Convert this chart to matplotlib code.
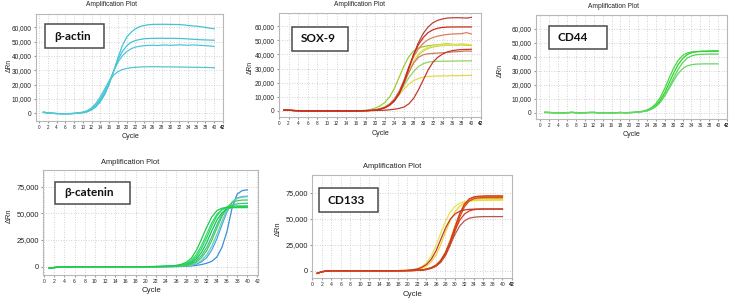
import matplotlib
matplotlib.use("Agg")
import matplotlib.pyplot as plt
from matplotlib.patches import Rectangle
from matplotlib.ticker import FuncFormatter
import numpy as np

W, H = 733, 300
CYCLES = np.arange(1, 41)

# delta Rn in thousands, one value per cycle 1..40
ACTIN = [
    [0.8, 0.3, 0.0, -0.2, -0.3, -0.3, -0.3, -0.2, 0.0, 0.4,
     1.0, 2.3, 4.5, 8.0, 13.0, 20.0, 29.0, 38.5, 47.0, 53.0,
     56.5, 59.0, 60.5, 61.3, 61.8, 62.0, 62.1, 62.1, 62.1, 62.0,
     62.0, 61.9, 61.7, 61.3, 61.0, 60.8, 60.4, 59.9, 59.4, 59.0],
    [0.6, 0.2, 0.0, -0.2, -0.3, -0.3, -0.3, -0.2, 0.1, 0.5,
     1.2, 2.8, 5.2, 9.0, 14.0, 21.0, 29.0, 37.0, 43.0, 47.0,
     49.5, 50.8, 51.5, 52.0, 52.2, 52.3, 52.3, 52.4, 52.3, 52.3,
     52.3, 52.2, 52.1, 51.9, 51.7, 51.5, 51.3, 51.2, 51.1, 51.0],
    [0.7, 0.2, 0.0, -0.2, -0.3, -0.3, -0.3, -0.1, 0.2, 0.6,
     1.5, 3.2, 6.0, 10.0, 15.5, 22.0, 29.0, 35.5, 40.0, 43.0,
     45.0, 46.2, 46.8, 47.2, 47.4, 47.5, 47.3, 47.6, 47.7, 47.4,
     47.6, 47.8, 47.6, 47.5, 47.7, 47.6, 47.4, 47.2, 47.0, 46.6],
    [0.8, 0.3, 0.0, -0.2, -0.3, -0.3, -0.2, 0.0, 0.3, 0.8,
     1.8, 3.8, 7.0, 11.5, 17.0, 22.5, 26.5, 29.0, 30.5, 31.3,
     31.8, 32.1, 32.3, 32.4, 32.5, 32.5, 32.5, 32.4, 32.4, 32.4,
     32.3, 32.3, 32.2, 32.2, 32.1, 32.1, 32.0, 32.0, 31.9, 31.8],
]
ACTIN_COLORS = ["#3fc6d6", "#45c3d4", "#4cc8d6", "#52c6d2"]

SOX9 = [
    [0.6, 0.5, 0.3, 0.1, 0.0, 0.0, 0.0, 0.0, 0.0, 0.0,
     0.0, 0.0, 0.0, 0.0, 0.0, 0.0, 0.2, 0.5, 1.0, 2.0,
     3.5, 6.0, 10.0, 16.0, 24.0, 32.0, 38.5, 42.5, 44.5, 45.6,
     46.2, 46.6, 46.9, 47.3, 47.6, 47.2, 46.8, 47.3, 46.9, 46.7],
    [0.6, 0.5, 0.3, 0.1, 0.0, 0.0, 0.0, 0.0, 0.0, 0.0,
     0.0, 0.0, 0.0, 0.0, 0.0, 0.0, 0.1, 0.2, 0.4, 0.8,
     1.5, 2.8, 5.0, 8.5, 13.5, 20.0, 27.5, 34.5, 39.5, 42.5,
     44.3, 45.3, 45.9, 46.3, 46.5, 46.6, 46.7, 46.7, 46.5, 46.4],
    [0.6, 0.5, 0.3, 0.1, 0.0, 0.0, 0.0, 0.0, 0.0, 0.0,
     0.0, 0.0, 0.0, 0.0, 0.0, 0.0, 0.1, 0.2, 0.4, 0.8,
     1.5, 2.8, 5.0, 8.0, 12.5, 18.0, 23.5, 28.0, 31.5, 33.5,
     34.6, 35.0, 35.2, 35.2, 35.3, 35.3, 35.4, 35.4, 35.5, 35.5],
    [0.6, 0.5, 0.3, 0.1, 0.0, 0.0, 0.0, 0.0, 0.0, 0.0,
     0.0, 0.0, 0.0, 0.0, 0.0, 0.0, 0.1, 0.2, 0.4, 0.8,
     1.5, 2.7, 4.6, 7.5, 11.5, 15.5, 19.0, 21.5, 23.0, 24.0,
     24.4, 24.6, 24.8, 24.8, 24.9, 25.0, 25.0, 25.1, 25.1, 25.2],
    [0.6, 0.5, 0.3, 0.1, 0.0, 0.0, 0.0, 0.0, 0.0, 0.0,
     0.0, 0.0, 0.0, 0.0, 0.0, 0.0, 0.1, 0.2, 0.4, 0.7,
     1.2, 2.4, 4.5, 8.0, 13.0, 20.5, 28.5, 35.5, 40.5, 43.5,
     45.2, 46.1, 46.6, 46.9, 47.1, 47.2, 47.3, 47.4, 47.3, 47.0],
    [0.6, 0.5, 0.3, 0.1, 0.0, 0.0, 0.0, 0.0, 0.0, 0.0,
     0.0, 0.0, 0.0, 0.0, 0.0, 0.0, 0.1, 0.2, 0.4, 0.7,
     1.3, 2.4, 4.4, 7.5, 12.5, 19.5, 27.5, 34.0, 38.0, 39.8,
     40.5, 40.8, 41.0, 41.2, 41.5, 41.8, 42.0, 42.2, 42.5, 42.3],
    [0.6, 0.5, 0.3, 0.1, 0.0, 0.0, 0.0, 0.0, 0.0, 0.0,
     0.0, 0.0, 0.0, 0.0, 0.0, 0.0, 0.1, 0.2, 0.4, 0.7,
     1.4, 2.6, 4.8, 8.5, 14.0, 22.0, 31.0, 38.5, 44.0, 48.0,
     50.5, 52.0, 53.0, 53.7, 54.2, 54.5, 54.6, 54.8, 55.5, 54.5],
    [0.6, 0.5, 0.3, 0.1, 0.0, 0.0, 0.0, 0.0, 0.0, 0.0,
     0.0, 0.0, 0.0, 0.0, 0.0, 0.0, 0.0, 0.1, 0.2, 0.3,
     0.4, 0.5, 0.8, 1.2, 1.8, 2.8, 5.0, 9.0, 15.0, 22.0,
     29.0, 34.5, 38.0, 40.3, 41.8, 42.7, 43.2, 43.5, 43.6, 43.7],
    [0.6, 0.5, 0.3, 0.1, 0.0, 0.0, 0.0, 0.0, 0.0, 0.0,
     0.0, 0.0, 0.0, 0.0, 0.0, 0.0, 0.1, 0.2, 0.3, 0.6,
     1.2, 2.2, 4.0, 7.0, 12.0, 20.0, 30.0, 40.0, 48.5, 55.0,
     59.5, 62.5, 64.2, 65.2, 65.8, 66.0, 66.1, 66.0, 65.8, 66.3],
    [0.6, 0.5, 0.3, 0.1, 0.0, 0.0, 0.0, 0.0, 0.0, 0.0,
     0.0, 0.0, 0.0, 0.0, 0.0, 0.0, 0.1, 0.2, 0.4, 0.6,
     1.2, 2.3, 4.2, 7.5, 13.0, 21.0, 31.0, 40.0, 47.0, 52.0,
     55.5, 57.5, 58.6, 59.2, 59.4, 59.5, 59.5, 59.5, 59.5, 59.5],
]
SOX9_COLORS = ["#9acd32", "#c5d64e", "#95d35c", "#e6d84a", "#e9e25c",
               "#cf7b62", "#d98060", "#c23b2c", "#b8443a", "#cc2a1e"]

CD44 = [
    [0.3, 0.2, 0.0, 0.0, -0.2, 0.0, 0.3, 0.0, -0.2, 0.0,
     0.2, 0.2, 0.0, 0.0, 0.0, -0.2, 0.0, 0.2, 0.0, 0.1,
     0.3, 0.6, 1.1, 2.0, 3.6, 6.5, 11.0, 17.5, 25.0, 32.0,
     37.5, 41.0, 42.8, 43.5, 43.7, 43.8, 43.9, 44.0, 44.0, 44.0],
    [0.2, 0.1, 0.0, 0.1, -0.1, 0.0, 0.2, 0.0, -0.1, 0.0,
     0.1, 0.2, 0.0, 0.0, 0.1, -0.1, 0.0, 0.1, 0.0, 0.1,
     0.2, 0.5, 0.9, 1.6, 2.9, 5.2, 9.0, 14.5, 21.5, 28.5,
     34.5, 38.8, 41.5, 43.0, 43.7, 44.0, 44.1, 44.2, 44.3, 44.3],
    [0.3, 0.1, 0.0, 0.0, -0.2, 0.0, 0.2, 0.1, -0.2, 0.0,
     0.2, 0.1, 0.0, 0.0, 0.0, -0.2, 0.0, 0.2, 0.0, 0.0,
     0.2, 0.4, 0.8, 1.4, 2.5, 4.5, 7.8, 12.5, 18.5, 25.0,
     31.0, 35.8, 39.0, 40.7, 41.5, 41.8, 41.9, 42.0, 42.0, 42.0],
    [0.2, 0.2, 0.0, 0.0, -0.1, 0.0, 0.3, 0.0, -0.1, 0.0,
     0.2, 0.2, 0.0, 0.0, 0.0, -0.1, 0.0, 0.1, 0.0, 0.1,
     0.2, 0.4, 0.8, 1.4, 2.5, 4.4, 7.5, 12.0, 17.5, 23.0,
     28.0, 31.5, 33.5, 34.4, 34.8, 34.9, 35.0, 35.0, 35.0, 35.0],
]
CD44_COLORS = ["#3ddc3d", "#2fcf2f", "#52d852", "#66d866"]

CATENIN = [
    [-1.5, -0.8, -0.4, -0.2, 0.0, 0.0, 0.0, 0.0, 0.0, 0.0,
     0.0, 0.0, 0.0, 0.0, 0.0, 0.0, 0.0, 0.0, 0.0, 0.0,
     0.0, 0.0, 0.0, 0.0, 0.0, 0.1, 0.2, 0.4, 0.7, 1.2,
     2.0, 3.2, 5.0, 9.0, 18.0, 33.0, 55.0, 68.0, 71.3, 72.0],
    [-1.5, -0.8, -0.4, -0.2, 0.0, 0.0, 0.0, 0.0, 0.0, 0.0,
     0.0, 0.0, 0.0, 0.0, 0.0, 0.0, 0.0, 0.0, 0.0, 0.0,
     0.0, 0.0, 0.0, 0.1, 0.1, 0.2, 0.4, 0.7, 1.3, 2.4,
     4.5, 8.5, 15.5, 26.0, 39.0, 51.5, 60.5, 64.5, 65.7, 66.0],
    [-1.5, -0.8, -0.4, -0.2, 0.0, 0.0, 0.0, 0.0, 0.0, 0.0,
     0.0, 0.0, 0.0, 0.0, 0.0, 0.0, 0.0, 0.0, 0.0, 0.0,
     0.0, 0.0, 0.0, 0.1, 0.2, 0.3, 0.5, 0.9, 1.6, 3.0,
     6.0, 11.0, 19.0, 30.0, 42.5, 53.5, 60.5, 64.0, 65.2, 65.6],
    [-1.5, -0.8, -0.4, -0.2, 0.0, 0.0, 0.0, 0.0, 0.0, 0.0,
     0.0, 0.0, 0.0, 0.0, 0.0, 0.0, 0.0, 0.0, 0.0, 0.0,
     0.0, 0.0, 0.1, 0.2, 0.3, 0.5, 0.9, 1.6, 3.0, 5.8,
     10.5, 18.0, 28.0, 39.0, 48.5, 54.8, 57.8, 58.9, 59.3, 59.4],
    [-1.5, -0.8, -0.4, -0.2, 0.0, 0.0, 0.0, 0.0, 0.0, 0.0,
     0.0, 0.0, 0.0, 0.0, 0.0, 0.0, 0.0, 0.0, 0.0, 0.0,
     0.0, 0.0, 0.1, 0.1, 0.2, 0.4, 0.7, 1.3, 2.4, 4.5,
     8.5, 15.0, 24.5, 36.0, 47.0, 55.5, 60.0, 61.8, 62.4, 62.5],
    [-1.5, -0.8, -0.4, -0.2, 0.0, 0.0, 0.0, 0.0, 0.0, 0.0,
     0.0, 0.0, 0.0, 0.0, 0.0, 0.0, 0.0, 0.0, 0.0, 0.0,
     0.0, 0.1, 0.1, 0.2, 0.4, 0.7, 1.2, 2.2, 4.0, 7.5,
     13.5, 22.5, 33.5, 43.5, 50.5, 54.2, 55.6, 56.0, 56.2, 56.2],
    [-1.5, -0.8, -0.4, -0.2, 0.0, 0.0, 0.0, 0.0, 0.0, 0.0,
     0.0, 0.0, 0.0, 0.0, 0.0, 0.0, 0.0, 0.0, 0.0, 0.0,
     0.0, 0.1, 0.2, 0.3, 0.5, 0.8, 1.3, 2.5, 5.0, 9.5,
     17.0, 27.0, 38.0, 47.5, 53.5, 56.0, 56.8, 57.0, 57.0, 57.0],
    [-1.5, -0.8, -0.4, -0.2, 0.0, 0.0, 0.0, 0.0, 0.0, 0.0,
     0.0, 0.0, 0.0, 0.0, 0.0, 0.0, 0.0, 0.0, 0.0, 0.0,
     0.1, 0.1, 0.2, 0.4, 0.6, 1.0, 1.5, 3.0, 6.0, 11.5,
     20.0, 30.5, 41.0, 49.0, 53.3, 54.8, 55.2, 55.3, 55.3, 55.3],
    [-1.5, -0.8, -0.4, -0.2, 0.0, 0.0, 0.0, 0.0, 0.0, 0.0,
     0.0, 0.0, 0.0, 0.0, 0.0, 0.0, 0.0, 0.0, 0.0, 0.0,
     0.1, 0.2, 0.3, 0.5, 0.8, 1.2, 2.2, 4.0, 8.0, 15.5,
     26.0, 37.0, 46.5, 52.5, 54.8, 55.5, 55.7, 55.8, 55.8, 55.8],
]
CATENIN_COLORS = ["#3b8fd4", "#4aaad8", "#6cc8d0", "#33c4a0", "#46d040",
                  "#1fbf5a", "#2fd65c", "#28e06a", "#22c84a"]

CD133 = [
    [-2.5, -1.0, -0.3, 0.0, 0.0, 0.0, 0.0, 0.0, 0.0, 0.0,
     0.0, 0.0, 0.0, 0.0, 0.0, 0.0, 0.0, 0.1, 0.2, 0.4,
     1.0, 2.0, 4.0, 7.5, 14.0, 24.0, 36.0, 47.5, 56.5, 62.0,
     65.0, 66.3, 67.0, 67.3, 67.5, 67.6, 67.7, 67.8, 67.8, 67.8],
    [-2.5, -1.0, -0.3, 0.0, 0.0, 0.0, 0.0, 0.0, 0.0, 0.0,
     0.0, 0.0, 0.0, 0.0, 0.0, 0.0, 0.0, 0.1, 0.2, 0.3,
     0.6, 1.2, 2.3, 4.5, 8.5, 15.0, 25.0, 37.0, 48.0, 56.5,
     62.0, 65.3, 67.0, 67.7, 68.0, 68.0, 68.1, 68.1, 68.2, 68.2],
    [-2.5, -1.0, -0.3, 0.0, 0.0, 0.0, 0.0, 0.0, 0.0, 0.0,
     0.0, 0.0, 0.0, 0.0, 0.0, 0.0, 0.0, 0.0, 0.0, 0.1,
     0.2, 0.4, 0.7, 1.4, 2.8, 5.3, 10.0, 18.0, 29.5, 43.0,
     55.0, 63.0, 67.3, 68.9, 69.3, 69.5, 69.5, 69.5, 69.5, 69.5],
    [-2.5, -1.0, -0.3, 0.0, 0.0, 0.0, 0.0, 0.0, 0.0, 0.0,
     0.0, 0.0, 0.0, 0.0, 0.0, 0.0, 0.0, 0.0, 0.0, 0.1,
     0.2, 0.4, 0.8, 1.6, 3.0, 5.5, 10.0, 17.5, 28.5, 42.0,
     55.0, 64.0, 68.7, 70.5, 71.0, 71.2, 71.3, 71.3, 71.3, 71.3],
    [-2.5, -1.0, -0.3, 0.0, 0.0, 0.0, 0.0, 0.0, 0.0, 0.0,
     0.0, 0.0, 0.0, 0.0, 0.0, 0.0, 0.0, 0.0, 0.0, 0.1,
     0.2, 0.3, 0.6, 1.2, 2.3, 4.3, 8.0, 14.5, 24.5, 38.0,
     51.5, 61.5, 67.0, 69.3, 70.1, 70.4, 70.5, 70.5, 70.5, 70.5],
    [-2.5, -1.0, -0.3, 0.0, 0.0, 0.0, 0.0, 0.0, 0.0, 0.0,
     0.0, 0.0, 0.0, 0.0, 0.0, 0.0, 0.0, 0.0, 0.0, 0.1,
     0.2, 0.3, 0.6, 1.2, 2.4, 4.5, 8.5, 15.5, 25.0, 35.0,
     43.0, 48.0, 50.5, 51.4, 51.8, 52.0, 52.0, 52.0, 52.0, 52.0],
    [-2.5, -1.0, -0.3, 0.0, 0.0, 0.0, 0.0, 0.0, 0.0, 0.0,
     0.0, 0.0, 0.0, 0.0, 0.0, 0.0, 0.0, 0.0, 0.0, 0.1,
     0.2, 0.4, 0.7, 1.4, 2.7, 5.0, 9.5, 17.0, 27.5, 39.0,
     48.5, 54.5, 57.5, 58.7, 59.1, 59.3, 59.3, 59.3, 59.3, 59.3],
    [-2.5, -1.0, -0.3, 0.0, 0.0, 0.0, 0.0, 0.0, 0.0, 0.0,
     0.0, 0.0, 0.0, 0.0, 0.0, 0.0, 0.0, 0.1, 0.2, 0.4,
     0.8, 1.6, 3.2, 6.0, 11.0, 19.0, 30.0, 41.0, 49.5, 54.5,
     57.2, 58.4, 59.0, 59.2, 59.3, 59.3, 59.3, 59.3, 59.3, 59.3],
    [-2.5, -1.0, -0.3, 0.0, 0.0, 0.0, 0.0, 0.0, 0.0, 0.0,
     0.0, 0.0, 0.0, 0.0, 0.0, 0.0, 0.0, 0.0, 0.0, 0.1,
     0.2, 0.4, 0.7, 1.4, 2.7, 5.0, 9.5, 17.0, 28.0, 41.5,
     54.5, 64.0, 69.0, 71.0, 71.6, 71.9, 72.0, 72.0, 72.0, 72.0],
]
CD133_COLORS = ["#e8e44a", "#f0d23c", "#e0b030", "#e8862a", "#c9591a",
                "#b5574e", "#e03a1e", "#c0392b", "#d63a1c"]

TEXT = "#222222"


def px_axes(fig, left, top, right, bottom):
    return fig.add_axes([left / W, 1 - bottom / H, (right - left) / W, (bottom - top) / H])


def px_text(fig, x, y, s, **kw):
    fig.text(x / W, 1 - y / H, s, ha="center", va="center", color=TEXT, **kw)


def draw_panel(fig, curves, colors, frame, xlim, ylim, yticks, big, title_xy, cycle_xy, ylab_xy, box, name):
    ax = px_axes(fig, *frame)
    for vals, c in zip(curves, colors):
        ax.plot(CYCLES, np.array(vals) * 1000, color=c, lw=0.9)

    ax.set_xlim(*xlim)
    ax.set_ylim(ylim[0] * 1000, ylim[1] * 1000)
    ax.set_xticks(range(0, 43, 2))
    ax.set_yticks([v * 1000 for v in yticks])
    ax.yaxis.set_major_formatter(FuncFormatter(lambda v, _: f"{v:,.0f}"))
    ax.grid(True, color="#c4c4c4", linestyle=(0, (1, 2)), lw=0.6)
    ax.set_axisbelow(True)
    for s in ax.spines.values():
        s.set_color("#b8b8b8")
        s.set_linewidth(0.8)

    xs = 3.6 if big else 3.3
    ys = 5.3 if big else 4.7
    ax.tick_params(axis="x", labelsize=xs, length=1.5, pad=1.5, color="#999999", labelcolor=TEXT)
    ax.tick_params(axis="y", labelsize=ys, length=1.5, pad=1.5, color="#999999", labelcolor=TEXT)
    if xlim[1] < 42:
        ax.annotate("42", xy=(42, 0), xycoords=ax.get_xaxis_transform(), xytext=(0, -3.2),
                    textcoords="offset points", ha="center", va="top", fontsize=xs,
                    color=TEXT, annotation_clip=False)

    fs = 5.4 if big else 4.8
    px_text(fig, *title_xy, "Amplification Plot", fontsize=fs)
    px_text(fig, *cycle_xy, "Cycle", fontsize=fs + 0.3)
    px_text(fig, *ylab_xy, "ΔRn", fontsize=fs, rotation=90)

    l, t, r, b = box
    fig.add_artist(Rectangle((l / W, 1 - b / H), (r - l) / W, (b - t) / H, transform=fig.transFigure,
                             facecolor="white", edgecolor="#4a4a4a", lw=1.1))
    fig.text((l + 9) / W, 1 - (t + b) / 2 / H, name, ha="left", va="center",
             fontsize=8.5, fontweight="bold", family="Lato", color="#111111")
    return ax


def main():
    plt.rcParams["font.family"] = ["Liberation Sans", "DejaVu Sans"]
    fig = plt.figure(figsize=(W / 100, H / 100), dpi=100)
    fig.patch.set_facecolor("white")

    top_ticks = [0, 10, 20, 30, 40, 50, 60]
    low_ticks = [0, 25, 50, 75]

    draw_panel(fig, ACTIN, ACTIN_COLORS, (36, 14, 223, 121), (-0.68, 41.6), (-5.4, 69.3), top_ticks,
               False, (112, 5), (131, 136), (9.5, 65), (45, 24, 104, 48), "β-actin")
    draw_panel(fig, SOX9, SOX9_COLORS, (279, 13, 481, 117), (0.0, 41.0), (-4.3, 69.4), top_ticks,
               False, (360, 5), (381, 133.5), (250.5, 67), (292, 27, 348, 51), "SOX-9")
    draw_panel(fig, CD44, CD44_COLORS, (536, 15, 727, 119), (-1.0, 41.2), (-4.5, 70.0), top_ticks,
               False, (613, 6.5), (632, 135), (500.5, 70), (549, 26, 607, 49), "CD44")
    draw_panel(fig, CATENIN, CATENIN_COLORS, (43, 170, 258, 275), (-0.2, 42.1), (-7.8, 90.6), low_ticks,
               True, (130, 162), (151, 290), (9.5, 216), (55, 182, 130, 204), "β-catenin")
    draw_panel(fig, CD133, CD133_COLORS, (312, 175, 512, 278), (-0.1, 41.25), (-7.0, 92.0), low_ticks,
               True, (392, 166), (412.5, 295), (278.5, 229), (319, 188, 378, 212), "CD133")

    fig.savefig("out.png", dpi=100, facecolor="white")
    plt.close(fig)


if __name__ == "__main__":
    main()
